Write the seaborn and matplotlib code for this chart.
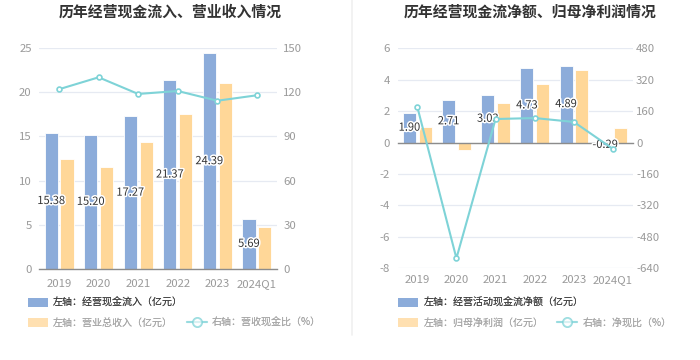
import numpy as np
import pandas as pd
import matplotlib
matplotlib.use("Agg")
import matplotlib.pyplot as plt
import matplotlib.patheffects as pe
from matplotlib.patches import Patch
from matplotlib.lines import Line2D
import seaborn as sns

# ---------------- data ----------------
years = ["2019", "2020", "2021", "2022", "2023", "2024Q1"]

# chart 1
cash_inflow = [15.38, 15.20, 17.27, 21.37, 24.39, 5.69]      # 经营现金流入（亿元）
revenue = [12.44, 11.57, 14.40, 17.53, 21.08, 4.79]          # 营业总收入（亿元）
cash_rev_ratio = [122.0, 130.1, 118.8, 120.8, 114.2, 117.9]  # 营收现金比（%）

# chart 2
net_cash = [1.90, 2.71, 3.03, 4.73, 4.89, -0.29]             # 经营活动现金流净额（亿元）
net_profit = [1.02, -0.46, 2.50, 3.76, 4.62, 0.93]           # 归母净利润（亿元）
net_cash_ratio = [183.0, -589.0, 120.0, 125.0, 105.0, -32.6] # 净现比（%）

left_ticks1 = [0, 5, 10, 15, 20, 25]
right_ticks1 = [0, 30, 60, 90, 120, 150]
left_ticks2 = [-8, -6, -4, -2, 0, 2, 4, 6]
right_ticks2 = [-640, -480, -320, -160, 0, 160, 320, 480]

# ---------------- style ----------------
sns.set_theme(style="white")
plt.rcParams["font.family"] = ["Noto Sans CJK SC", "DejaVu Sans"]
plt.rcParams["axes.unicode_minus"] = False

BLUE = "#8CACDA"
ORANGE = "#FFD798"
LINE = "#7ED3D7"
GRID = "#E6EAF2"
TICK = "#9A9A9A"
AXIS = "#8C8C8C"

fig = plt.figure(figsize=(7, 3.6), dpi=100)


def make_chart(rect, title, title_x, s1_name, s2_name, line_name,
               s1, s2, ratio, lticks, rticks, zero_spine, rpad):
    ax = fig.add_axes(rect)
    df = pd.DataFrame({
        "year": years * 2,
        "series": [s1_name] * len(years) + [s2_name] * len(years),
        "value": list(s1) + list(s2),
    })
    sns.barplot(data=df, x="year", y="value", hue="series", ax=ax,
                palette=[BLUE, ORANGE], width=0.8, gap=0.17, saturation=1,
                legend=False, edgecolor="white", linewidth=0.6)
    ax.set_xlim(-0.5, len(years) - 0.5)
    ax.set_ylim(lticks[0], lticks[-1])
    ax.set_yticks(lticks)
    ax.set_yticklabels([str(t) for t in lticks])
    ax.set_xlabel("")
    ax.set_ylabel("")
    ax.grid(axis="y", color=GRID, linewidth=0.9)
    ax.set_axisbelow(True)
    for s in ["top", "left", "right"]:
        ax.spines[s].set_visible(False)
    ax.spines["bottom"].set_color(AXIS)
    ax.spines["bottom"].set_linewidth(1.0)
    ax.tick_params(axis="y", length=0, labelsize=8.2, labelcolor=TICK, pad=5.5)
    ax.tick_params(axis="x", length=4, color=AXIS, width=0.8, direction="out",
                   labelsize=8.2, labelcolor=TICK, pad=3)

    # data labels on first series
    texts = ax.bar_label(ax.containers[0], fmt="%.2f", label_type="center",
                         fontsize=8, color="#333333")
    for t in texts:
        t.set_path_effects([pe.withStroke(linewidth=2.2, foreground="white")])
        t.set_zorder(6)

    ax2 = ax.twinx()
    sns.pointplot(x=years, y=ratio, ax=ax2, color=LINE, markers="o",
                  linewidth=1.5, markersize=3.5, markerfacecolor="white",
                  markeredgewidth=1.2, errorbar=None)
    ax2.set_ylim(rticks[0], rticks[-1])
    ax2.set_yticks(rticks)
    ax2.set_yticklabels([str(t) for t in rticks])
    ax2.set_ylabel("")
    ax2.set_xlabel("")
    for s in ["top", "left", "right", "bottom"]:
        ax2.spines[s].set_visible(False)
    ax2.tick_params(axis="y", length=0, labelsize=8.2, labelcolor=TICK, pad=rpad)
    ax2.grid(False)
    ax2.set_xlim(-0.5, len(years) - 0.5)

    if zero_spine:
        ax.spines["bottom"].set_position(("data", 0))
        ax.tick_params(axis="x", labelbottom=False)
        ax2.xaxis.set_visible(True)
        ax2.tick_params(axis="x", bottom=True, labelbottom=True, length=0,
                        labelsize=8.2, labelcolor=TICK, pad=5)
        ax2.set_xticks(range(len(years)))
        ax2.set_xticklabels(years)

    fig.text(title_x, 0.967, title, ha="center", va="center",
             fontsize=10.7, fontweight="bold", color="#333333")
    return ax


ax_a = make_chart([0.0561, 0.2528, 0.3391, 0.6139],
                  "历年经营现金流入、营业收入情况", 0.243,
                  "左轴：经营现金流入（亿元）", "左轴：营业总收入（亿元）",
                  "右轴：营收现金比（%）",
                  cash_inflow, revenue, cash_rev_ratio,
                  left_ticks1, right_ticks1, False, 4.8)
ax_b = make_chart([0.5681, 0.2547, 0.3357, 0.6111],
                  "历年经营现金流净额、归母净利润情况", 0.757,
                  "左轴：经营活动现金流净额（亿元）", "左轴：归母净利润（亿元）",
                  "右轴：净现比（%）",
                  net_cash, net_profit, net_cash_ratio,
                  left_ticks2, right_ticks2, True, 2.4)


def add_legends(x0, n1, n2, n3):
    common = dict(frameon=False, fontsize=7.2, handlelength=2.0,
                  handleheight=1.0, handletextpad=0.5, borderpad=0,
                  borderaxespad=0, columnspacing=1.4, loc="center left")
    h1 = [Patch(facecolor=BLUE, edgecolor="none")]
    l1 = fig.legend(h1, [n1], bbox_to_anchor=(x0, 1 - 302.7 / 360),
                    bbox_transform=fig.transFigure, **common)
    for t in l1.get_texts():
        t.set_color("#444444")
    fig.add_artist(l1)
    h2 = [Patch(facecolor=ORANGE, edgecolor="none", alpha=0.5),
          Line2D([], [], color=LINE, alpha=0.55, linewidth=1.5, marker="o",
                 markersize=6.5, markerfacecolor="white", markeredgewidth=1.3)]
    l2 = fig.legend(h2, [n2, n3], ncol=2, bbox_to_anchor=(x0, 1 - 322.7 / 360),
                    bbox_transform=fig.transFigure, **common)
    for t in l2.get_texts():
        t.set_color("#A8A8A8")
    fig.add_artist(l2)


add_legends(28 / 700, "左轴：经营现金流入（亿元）", "左轴：营业总收入（亿元）",
            "右轴：营收现金比（%）")
add_legends(398.3 / 700, "左轴：经营活动现金流净额（亿元）", "左轴：归母净利润（亿元）",
            "右轴：净现比（%）")

# separator between the two panels
fig.add_artist(Line2D([352 / 700, 352 / 700], [1 - 335 / 360, 1.0],
                      transform=fig.transFigure, color="#F0F0F0", linewidth=1.2))

fig.savefig("out.png", dpi=100)
